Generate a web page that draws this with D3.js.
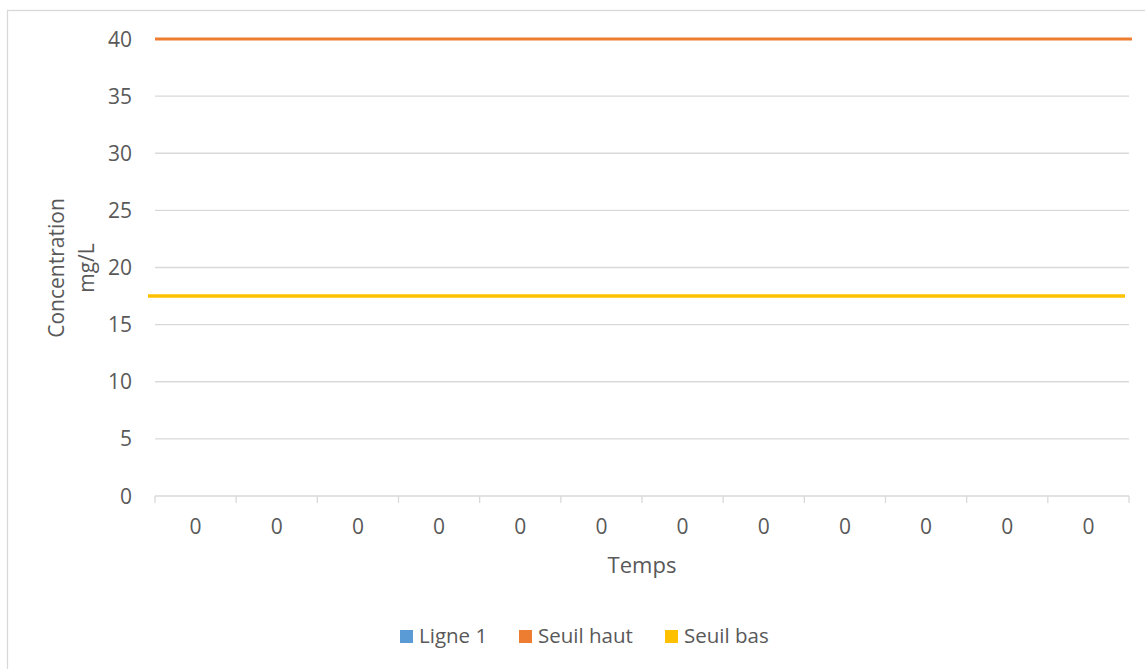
<!DOCTYPE html>
<html><head><meta charset="utf-8">
<script src="https://cdn.jsdelivr.net/npm/d3@7"></script>
<style>body{margin:0;background:#fff}svg{display:block}text{font-family:"Open Sans",sans-serif;fill:#595959}</style>
</head><body>
<svg id="c" width="1145" height="669"></svg>
<script>
const categories = ["0","0","0","0","0","0","0","0","0","0","0","0"];
const ligne1 = [];
const seuilHaut = 40;
const seuilBas = 17.5;
const yTicks = [0,5,10,15,20,25,30,35,40];
const seriesNames = ["Ligne 1","Seuil haut","Seuil bas"];
const colors = ["#5B9BD5","#ED7D31","#FFC000"];

const svg = d3.select("#c");
const L = 155, R = 1129, T = 39, B = 496;
svg.append("rect").attr("x",7.5).attr("y",10.5).attr("width",1200).attr("height",700)
  .attr("fill","none").attr("stroke","#d9d9d9").attr("stroke-width",1.3);

const x = d3.scaleBand().domain(d3.range(categories.length)).range([L,R]);
const y = d3.scaleLinear().domain([0,40]).range([B,T]);

// gridlines
svg.append("g").selectAll("line").data(yTicks.filter(d=>d>0)).join("line")
  .attr("x1",L).attr("x2",R).attr("y1",d=>y(d)).attr("y2",d=>y(d))
  .attr("stroke","#d9d9d9").attr("stroke-width",1.3);

// y tick labels
svg.append("g").selectAll("text").data(yTicks).join("text")
  .attr("x",132).attr("y",d=>y(d)).attr("dy","0.36em").attr("text-anchor","end")
  .attr("font-size",21).text(d=>d);

// x axis
const xa = svg.append("g");
xa.append("line").attr("x1",L).attr("x2",R).attr("y1",B).attr("y2",B).attr("stroke","#d9d9d9").attr("stroke-width",1.3);
const bounds = d3.range(categories.length+1).map(i=> i<categories.length ? x(i) : x(categories.length-1)+x.bandwidth());
xa.selectAll("line.t").data(bounds).join("line").attr("class","t")
  .attr("x1",d=>d).attr("x2",d=>d).attr("y1",B).attr("y2",B+7).attr("stroke","#d9d9d9").attr("stroke-width",1.3);
xa.selectAll("text").data(categories).join("text")
  .attr("x",(d,i)=>x(i)+x.bandwidth()/2).attr("y",534).attr("text-anchor","middle")
  .attr("font-size",21).text(d=>d);

// threshold lines
svg.append("line").attr("x1",L).attr("x2",R+3).attr("y1",y(seuilHaut)).attr("y2",y(seuilHaut))
  .attr("stroke",colors[1]).attr("stroke-width",3.2);
svg.append("line").attr("x1",L-7).attr("x2",R-4).attr("y1",y(seuilBas)).attr("y2",y(seuilBas))
  .attr("stroke",colors[2]).attr("stroke-width",3.5);

// ligne 1 (no values)
svg.append("path").datum(ligne1).attr("fill","none").attr("stroke",colors[0]).attr("stroke-width",3)
  .attr("d",d3.line().x((d,i)=>x(i)+x.bandwidth()/2).y(d=>y(d)));

// axis titles
svg.append("text").attr("transform","translate(64,268) rotate(-90)").attr("text-anchor","middle")
  .attr("font-size",21).text("Concentration");
svg.append("text").attr("transform","translate(94,268) rotate(-90)").attr("text-anchor","middle")
  .attr("font-size",21).text("mg/L");
svg.append("text").attr("x",642).attr("y",573).attr("text-anchor","middle").attr("font-size",22).text("Temps");

// legend
const legX = [400,519,665];
const lg = svg.append("g");
seriesNames.forEach((n,i)=>{
  lg.append("rect").attr("x",legX[i]).attr("y",630).attr("width",13).attr("height",13).attr("fill",colors[i]);
  lg.append("text").attr("x",legX[i]+19).attr("y",643).attr("font-size",20.5).text(n);
});
</script>
</body></html>
